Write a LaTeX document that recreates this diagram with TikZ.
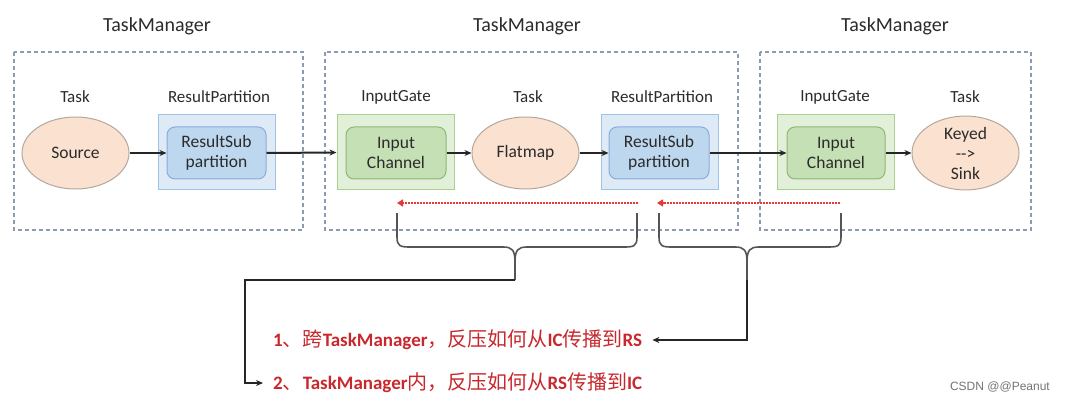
\documentclass[tikz,border=0pt]{standalone}
\usepackage{fontspec}
\setmainfont{Carlito}
\newfontfamily\cjk{Noto Sans CJK SC}
\newfontfamily\wmfont{Liberation Sans}
\usetikzlibrary{shapes.geometric,arrows.meta}
\definecolor{txt}{HTML}{2B2B2B}
\definecolor{dashc}{HTML}{8A9BB2}
\definecolor{gout}{HTML}{E2F0D9}
\definecolor{goutb}{HTML}{A9D18E}
\definecolor{gin}{HTML}{C5E0B4}
\definecolor{ginb}{HTML}{8DB878}
\definecolor{bout}{HTML}{DEEBF7}
\definecolor{boutb}{HTML}{9DC3E6}
\definecolor{bin}{HTML}{BDD7EE}
\definecolor{binb}{HTML}{8EAADB}
\definecolor{peach}{HTML}{FBE1D0}
\definecolor{peachb}{HTML}{B3A79E}
\definecolor{redt}{HTML}{C8282D}
\definecolor{redd}{HTML}{E53935}
\definecolor{bracec}{HTML}{555555}
\tikzset{
  title/.style={font=\fontsize{20}{24}\selectfont, text=txt, inner sep=0},
  lbl/.style={font=\fontsize{17}{20}\selectfont, text=txt, inner sep=0},
  tmbox/.style={draw=dashc, line width=1.3pt, dash pattern=on 4pt off 3pt},
  outerbox/.style={draw=#1b, fill=#1, line width=1pt, minimum width=117, minimum height=75, inner sep=0},
  innerbox/.style={draw=#1b, fill=#1, line width=1pt, rounded corners=8pt, minimum height=52, inner sep=0, align=center, font=\fontsize{17.5}{20}\selectfont, text=txt},
  ell/.style={ellipse, draw=peachb, fill=peach, line width=1pt, minimum width=107, minimum height=72, inner sep=0, align=center, font=\fontsize{17.5}{20}\selectfont, text=txt},
  blk/.style={draw=black!85, line width=2pt, -{Stealth[length=7pt,width=6pt]}},
  reddot/.style={draw=redd, line width=2.4pt, dash pattern=on 1.6pt off 1.4pt, -{Triangle[length=6pt,width=7pt]}},
  bracestyle/.style={draw=bracec, line width=1.6pt, line join=round},
  note/.style={font=\fontsize{19}{22}\selectfont\bfseries, text=redt, inner ysep=0, inner xsep=10pt},
}
\newcommand{\zh}[1]{{\cjk\fontsize{20}{22}\selectfont\mdseries #1}}
\begin{document}
\begin{tikzpicture}[x=1pt,y=-1pt]
\useasboundingbox (0,0) rectangle (1066,401);
% TaskManager titles
\node[title] (t1) at (157,26) {TaskManager};
\node[title] (t2) at (527,26) {TaskManager};
\node[title] (t3) at (895,26) {TaskManager};
% dashed boxes
\draw[tmbox] (14,52) rectangle (303,230);
\draw[tmbox] (325,52) rectangle (738,230);
\draw[tmbox] (760,52) rectangle (1031,230);
% labels
\node[lbl] (l1) at (75,97) {Task};
\node[lbl] (l2) at (219,97) {ResultPartition};
\node[lbl] (l3) at (396,97) {InputGate};
\node[lbl] (l4) at (528,97) {Task};
\node[lbl] (l5) at (662,97) {ResultPartition};
\node[lbl] (l6) at (835,97) {InputGate};
\node[lbl] (l7) at (965,97) {Task};
% TM1
\node[ell] (src) at (75.5,153) {Source};
\node[outerbox=bout] (rp1) at (216.5,152.5) {};
\node[innerbox=bin, minimum width=99] (rs1) at (216.5,153) {ResultSub\\partition};
% TM2
\node[outerbox=gout] (ig2) at (395.5,152.5) {};
\node[innerbox=gin, minimum width=100] (ic2) at (396,153) {Input\\Channel};
\node[ell] (fm) at (525.5,153) {Flatmap};
\node[outerbox=bout] (rp2) at (659.5,152.5) {};
\node[innerbox=bin, minimum width=100] (rs2) at (659,153) {ResultSub\\partition};
% TM3
\node[outerbox=gout] (ig3) at (835.5,152.5) {};
\node[innerbox=gin, minimum width=98] (ic3) at (836,153) {Input\\Channel};
\node[ell] (sink) at (965.5,153) {Keyed\\{-}{-}>\\Sink};
% data flow arrows
\draw[blk] (src.east) -- (rs1.west);
\draw[blk] (rs1.east) -- (ig2.west);
\draw[blk] (ic2.east) -- (fm.west);
\draw[blk] (fm.east) -- (rs2.west);
\draw[blk] (rs2.east) -- (ic3.west);
\draw[blk] (ic3.east) -- (sink.west);
% red back-pressure arrows
\coordinate (r1s) at (638,203);
\coordinate (r1e) at (397,203);
\coordinate (r2s) at (840,203);
\coordinate (r2e) at (657,203);
\draw[reddot] (r1s) -- (r1e);
\draw[reddot] (r2s) -- (r2e);
% braces
\coordinate (b1m) at (515,280);
\coordinate (b2m) at (747,280);
\draw[bracestyle] (397,213) -- (397,237) .. controls (397,246) and (400,247) .. (410,247)
  -- (503,247) .. controls (512,247) and (515,250) .. (515,262) -- (b1m);
\draw[bracestyle] (637,213) -- (637,237) .. controls (637,246) and (634,247) .. (624,247)
  -- (527,247) .. controls (518,247) and (515,250) .. (515,262);
\draw[bracestyle] (659,213) -- (659,237) .. controls (659,246) and (662,247) .. (672,247)
  -- (735,247) .. controls (744,247) and (747,250) .. (747,262) -- (b2m);
\draw[bracestyle] (841,213) -- (841,237) .. controls (841,246) and (838,247) .. (828,247)
  -- (759,247) .. controls (750,247) and (747,250) .. (747,262);
% notes
\node[note, anchor=west] (q1) at (263,340) {1\zh{、跨}TaskManager\zh{，反压如何从}IC\zh{传播到}RS};
\node[note, anchor=west] (q2) at (263,383) {2\zh{、}TaskManager\zh{内，反压如何从}RS\zh{传播到}IC};
\coordinate (c1) at (245,280);
\draw[blk, line width=1.8pt] (b1m) -- (c1) |- (q2.west);
\draw[blk, line width=1.8pt] (b2m) |- (q1.east);
% watermark
\node[font=\wmfont\fontsize{12}{14}\selectfont, text=black!55, anchor=east, inner sep=0] (wm) at (1050,387) {CSDN @@Peanut};
\end{tikzpicture}
\end{document}
